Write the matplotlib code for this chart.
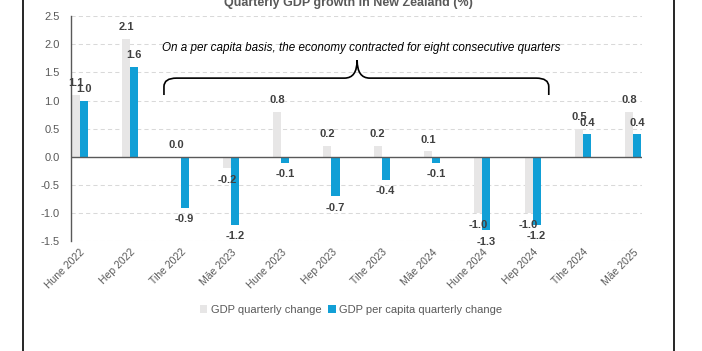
# -*- coding: utf-8 -*-

import numpy as np
import matplotlib.pyplot as plt
from matplotlib.path import Path
from matplotlib.patches import PathPatch
from matplotlib.lines import Line2D

quarters = ['Hune 2022', 'Hep 2022', 'Tihe 2022', 'Māe 2023', 'Hune 2023', 'Hep 2023',
            'Tihe 2023', 'Māe 2024', 'Hune 2024', 'Hep 2024', 'Tihe 2024', 'Māe 2025']
gdp_change = [1.1, 2.1, 0.0, -0.2, 0.8, 0.2, 0.2, 0.1, -1.0, -1.0, 0.5, 0.8]
gdp_pc_change = [1.0, 1.6, -0.9, -1.2, -0.1, -0.7, -0.4, -0.1, -1.3, -1.2, 0.4, 0.4]
y_ticks = [-1.5, -1.0, -0.5, 0.0, 0.5, 1.0, 1.5, 2.0, 2.5]

title = 'Quarterly GDP growth in New Zealand (%)'
note = 'On a per capita basis, the economy contracted for eight consecutive quarters'

plt.rcParams['font.family'] = ['Liberation Sans', 'DejaVu Sans']

grey = '#E7E6E6'
blue = '#119FD6'
txt = '#595959'
lbl = '#404040'

fig = plt.figure(figsize=(7.02, 3.51), dpi=100)
ax = fig.add_axes([0.101, 0.312, 0.814, 0.642])

x = np.arange(len(quarters))
w = 0.16
ax.bar(x - w / 2, gdp_change, width=w, color=grey, label='GDP quarterly change', zorder=2)
ax.bar(x + w / 2, gdp_pc_change, width=w, color=blue, label='GDP per capita quarterly change', zorder=2)

# value labels
for xs, vals in ((x - w / 2, gdp_change), (x + w / 2, gdp_pc_change)):
    for xi, v in zip(xs, vals):
        off = 8.5 if v >= 0 else -8.5
        ax.annotate('{:.1f}'.format(v), (xi, v), xytext=(0, off), textcoords='offset points',
                    ha='center', va='center', fontsize=8, fontweight='bold', color=lbl, zorder=4)

ax.set_xlim(-0.18, len(quarters) - 1 + 0.18)
ax.set_ylim(-1.5, 2.5)
ax.set_yticks(y_ticks)
ax.set_yticklabels(['{:.1f}'.format(t) for t in y_ticks])
ax.set_xticks(x)
ax.set_xticklabels(quarters, rotation=45, ha='right', rotation_mode='anchor')
ax.tick_params(axis='y', length=0, pad=8, labelsize=8, labelcolor=txt)
ax.tick_params(axis='x', length=0, pad=4, labelsize=7.5, labelcolor=txt)

for t in y_ticks:
    if t != 0:
        ax.axhline(t, color='#D9D9D9', lw=0.75, ls=(0, (4, 3)), zorder=1)
ax.axhline(0, color=txt, lw=1.0, zorder=3)

for s in ['top', 'right', 'bottom']:
    ax.spines[s].set_visible(False)
ax.spines['left'].set_color(txt)
ax.spines['left'].set_linewidth(1.0)

# curly brace over the contraction
xl, xm, xr = 1.67, 5.51, 9.32
ye, yb, yt = 1.10, 1.40, 1.72
verts = [(xl, ye), (xl, yb - 0.15),
         (xl, yb), (xl + 0.25, yb),
         (xm - 0.25, yb),
         (xm, yb), (xm, yt),
         (xm, yb), (xm + 0.25, yb),
         (xr - 0.25, yb),
         (xr, yb), (xr, yb - 0.15),
         (xr, ye)]
codes = [Path.MOVETO, Path.LINETO,
         Path.CURVE3, Path.CURVE3,
         Path.LINETO,
         Path.CURVE3, Path.CURVE3,
         Path.CURVE3, Path.CURVE3,
         Path.LINETO,
         Path.CURVE3, Path.CURVE3,
         Path.LINETO]
ax.add_patch(PathPatch(Path(verts, codes), fill=False, lw=1.2, color='black', zorder=5))
ax.text(5.6, 1.94, note, ha='center', va='center', fontsize=8.4, style='italic', color='black')

fig.text(0.496, 0.992, title, ha='center', va='center', fontsize=9, fontweight='bold', color=txt)

ax.legend(loc='center', bbox_to_anchor=(0.5, 0.117), bbox_transform=fig.transFigure, ncol=2,
          frameon=False, fontsize=8, labelcolor=txt, handlelength=0.7, handleheight=0.7,
          handletextpad=0.3, columnspacing=0.6)

# frame lines of the chart area
fig.add_artist(Line2D([23 / 702, 23 / 702], [0, 1], color='black', lw=1.2))
fig.add_artist(Line2D([674 / 702, 674 / 702], [0, 1], color='black', lw=1.2))

plt.savefig('out.png', dpi=100)
